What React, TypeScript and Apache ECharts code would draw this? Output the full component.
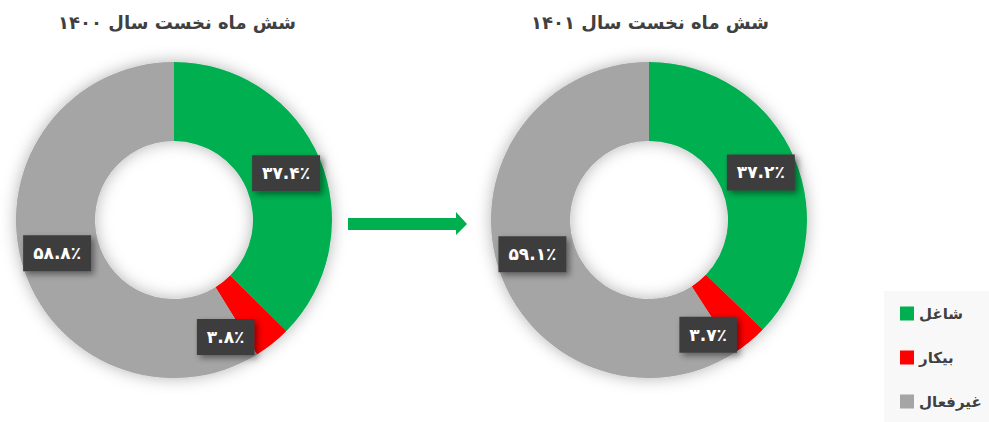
import React, { useEffect, useRef } from "react";
import * as echarts from "echarts";

const categories = ["شاغل", "بیکار", "غیرفعال"];
const colors = ["#00b050", "#ff0000", "#a5a5a5"];
const titles = ["شش ماه نخست سال ۱۴۰۰", "شش ماه نخست سال ۱۴۰۱"];
const values1400 = [37.4, 3.8, 58.8];
const values1401 = [37.2, 3.7, 59.1];

const toFa = (s: string) => s.replace(/[0-9]/g, (d) => "۰۱۲۳۴۵۶۷۸۹"[+d]);

const FONT = "DejaVu Sans";

export default function App() {
  const ref = useRef<HTMLDivElement>(null);
  useEffect(() => {
    document.body.style.margin = "0";
    const chart = echarts.init(ref.current!, undefined, { renderer: "svg" });
    const centers = [174, 649];
    const redShift = [
      [-24, 22],
      [-18, 21],
    ];
    const dataSets = [values1400, values1401];
    const series: any[] = [];
    centers.forEach((cx, i) => {
      series.push({
        type: "pie",
        silent: true,
        z: 1,
        center: [cx, 220],
        radius: [79, 158],
        label: { show: false },
        labelLine: { show: false },
        itemStyle: {
          color: "#cccccc",
          shadowBlur: 16,
          shadowColor: "rgba(0,0,0,0.3)",
        },
        data: [{ value: 1, name: "bg" }],
        legendHoverLink: false,
      });
      series.push({
        type: "pie",
        z: 2,
        center: [cx, 220],
        radius: [79, 158],
        startAngle: 90,
        clockwise: true,
        avoidLabelOverlap: false,
        data: categories.map((name, j) => ({
          name,
          value: dataSets[i][j],
          itemStyle: { color: colors[j] },
        })),
        label: {
          show: true,
          position: "inside",
          formatter: (p: any) => toFa(p.value.toFixed(1)) + "٪",
          color: "#ffffff",
          fontFamily: FONT,
          fontWeight: "bold",
          fontSize: 17,
          backgroundColor: "#3d3d3d",
          padding: [10, 10, 9, 10],
          shadowBlur: 6,
          shadowOffsetX: 3,
          shadowOffsetY: 3,
          shadowColor: "rgba(0,0,0,0.45)",
        },
        labelLine: { show: false },
        labelLayout: (params: any) => {
          if (params.dataIndex === 1) {
            return { dx: redShift[i][0], dy: redShift[i][1] };
          }
          return {};
        },
      });
    });
    chart.setOption({
      animation: false,
      backgroundColor: "#ffffff",
      title: titles.map((t, i) => ({
        text: t,
        left: [172, 645][i],
        top: 8,
        textAlign: "center",
        textStyle: {
          fontFamily: FONT,
          fontWeight: "bold",
          fontSize: 18,
          color: "#404040",
        },
      })),
      legend: {
        orient: "vertical",
        left: 895,
        top: 301,
        data: categories,
        icon: "rect",
        itemWidth: 14,
        itemHeight: 14,
        itemGap: 29,
        textStyle: {
          fontFamily: FONT,
          fontWeight: "bold",
          fontSize: 15,
          color: "#404040",
        },
        selectedMode: false,
      },
      graphic: [
        {
          type: "rect",
          z: -10,
          shape: { x: 884, y: 291, width: 105, height: 131 },
          style: { fill: "#f8f8f8" },
        },
        {
          type: "polygon",
          shape: {
            points: [
              [348, 218],
              [456, 218],
              [456, 212],
              [467, 224],
              [456, 235],
              [456, 230],
              [348, 230],
            ],
          },
          style: { fill: "#00b050" },
        },
      ],
      series,
    });
    return () => chart.dispose();
  }, []);
  return <div ref={ref} style={{ width: 989, height: 422 }} />;
}
